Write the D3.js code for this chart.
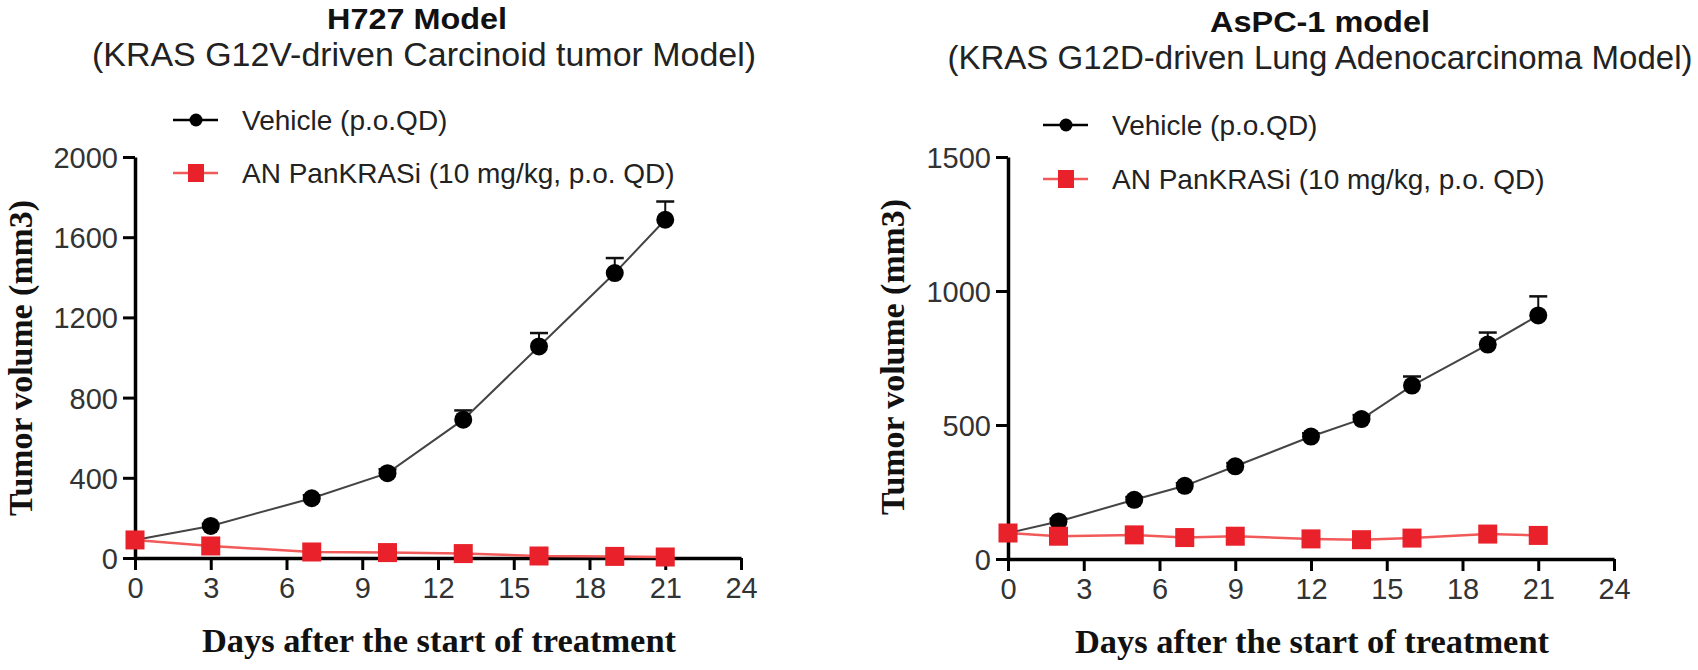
<!DOCTYPE html>
<html>
<head>
<meta charset="utf-8">
<script src="https://cdn.jsdelivr.net/npm/d3@7"></script>
<style>
  html, body { margin: 0; padding: 0; background: #fff; }
  svg { display: block; }
</style>
</head>
<body>
<svg id="chart" width="1698" height="670"></svg>
<script>
// ---------------- DATA ----------------
const seriesNames = ["Vehicle (p.o.QD)", "AN PanKRASi (10 mg/kg, p.o. QD)"];
const xTicks = [0, 3, 6, 9, 12, 15, 18, 21, 24];

// Panel 1: H727
const h727Titles = ["H727 Model", "(KRAS G12V-driven Carcinoid tumor Model)"];
const h727Days = [0, 3, 7, 10, 13, 16, 19, 21];
const h727Vehicle = [90, 160, 298, 423, 690, 1055, 1421, 1687];
const h727VehicleErr = [5, 10, 15, 20, 46, 67, 75, 91];
const h727Drug = [90, 60, 30, 27, 22, 10, 8, 5];
const h727YTicks = [0, 400, 800, 1200, 1600, 2000];

// Panel 2: AsPC-1
const aspcTitles = ["AsPC-1 model", "(KRAS G12D-driven Lung Adenocarcinoma Model)"];
const aspcDays = [0, 2, 5, 7, 9, 12, 14, 16, 19, 21];
const aspcVehicle = [97, 140, 221, 273, 346, 457, 522, 647, 800, 909];
const aspcVehicleErr = [5, 10, 10, 10, 12, 12, 15, 34, 45, 71];
const aspcDrug = [97, 85, 90, 80, 85, 75, 72, 78, 93, 88];
const aspcYTicks = [0, 500, 1000, 1500];

const xLabel = "Days after the start of treatment";
const yLabel = "Tumor volume (mm3)";

// ---------------- DRAW ----------------
const svg = d3.select("#chart");
svg.append("rect").attr("width", 1698).attr("height", 670).attr("fill", "#fff");

const RED = "#e8212a";
const RED_LINE = "#f25a5a";

function panel(cfg) {
  const g = svg.append("g");
  const x = d3.scaleLinear().domain([0, 24]).range([cfg.x0, cfg.x1]);
  const y = d3.scaleLinear().domain([0, cfg.yMax]).range([cfg.y0, cfg.y1]);

  // titles
  g.append("text").attr("x", cfg.titleX).attr("y", cfg.titleY)
    .attr("text-anchor", "middle")
    .style("font-family", "Liberation Sans, Arial, sans-serif")
    .style("font-weight", "bold").style("font-size", "30px").attr("fill", "#111")
    .attr("textLength", cfg.titleW).attr("lengthAdjust", "spacingAndGlyphs")
    .text(cfg.titles[0]);
  g.append("text").attr("x", cfg.subX).attr("y", cfg.subY)
    .attr("text-anchor", "middle")
    .style("font-family", "Liberation Sans, Arial, sans-serif")
    .style("font-size", cfg.subSize + "px").attr("fill", "#222")
    .attr("textLength", cfg.subW).attr("lengthAdjust", "spacingAndGlyphs")
    .text(cfg.titles[1]);

  // axes
  const xAxis = d3.axisBottom(x).tickValues(xTicks).tickSize(12).tickSizeOuter(0).tickPadding(6)
    .tickFormat(d3.format("d"));
  const yAxis = d3.axisLeft(y).tickValues(cfg.yTicks).tickSize(12).tickSizeOuter(0).tickPadding(5)
    .tickFormat(d3.format("d"));

  const gx = g.append("g").attr("transform", `translate(0,${cfg.y0})`).call(xAxis);
  const gy = g.append("g").attr("transform", `translate(${cfg.x0},0)`).call(yAxis);
  [gx, gy].forEach(a => {
    a.select(".domain").attr("stroke", "#000").attr("stroke-width", 3.5);
    a.selectAll(".tick line").attr("stroke", "#000").attr("stroke-width", 3);
    a.selectAll(".tick text")
      .style("font-family", "Liberation Sans, Arial, sans-serif")
      .style("font-size", "29px").attr("fill", "#333");
  });
  gx.selectAll(".tick text").attr("dy", "0.75em");
  gy.selectAll(".tick text").attr("dy", "0.36em");

  // axis labels
  g.append("text").attr("x", cfg.xLabX).attr("y", cfg.xLabY)
    .attr("text-anchor", "middle")
    .style("font-family", "Liberation Serif, Times New Roman, serif")
    .style("font-weight", "bold").style("font-size", "33px").attr("fill", "#111")
    .attr("textLength", 474).attr("lengthAdjust", "spacingAndGlyphs")
    .text(xLabel);
  g.append("text")
    .attr("transform", `translate(${cfg.yLabX},${cfg.yLabY}) rotate(-90)`)
    .attr("text-anchor", "middle")
    .style("font-family", "Liberation Serif, Times New Roman, serif")
    .style("font-weight", "bold").style("font-size", "34px").attr("fill", "#111")
    .attr("textLength", 316).attr("lengthAdjust", "spacingAndGlyphs")
    .text(yLabel);

  const veh = cfg.days.map((d, i) => ({ d, v: cfg.veh[i], e: cfg.err[i] }));
  const drug = cfg.days.map((d, i) => ({ d, v: cfg.drug[i] }));
  const line = d3.line().x(p => x(p.d)).y(p => y(p.v));

  // vehicle error bars (upper only)
  g.append("g").selectAll("g").data(veh).join("g").each(function (p) {
    const s = d3.select(this);
    s.append("line").attr("x1", x(p.d)).attr("x2", x(p.d))
      .attr("y1", y(p.v)).attr("y2", y(p.v + p.e)).attr("stroke", "#111").attr("stroke-width", 2);
    s.append("line").attr("x1", x(p.d) - 9).attr("x2", x(p.d) + 9)
      .attr("y1", y(p.v + p.e)).attr("y2", y(p.v + p.e)).attr("stroke", "#111").attr("stroke-width", 2.5);
  });

  // lines
  g.append("path").datum(veh).attr("d", line).attr("fill", "none")
    .attr("stroke", "#444").attr("stroke-width", 2);
  g.append("path").datum(drug).attr("d", line).attr("fill", "none")
    .attr("stroke", RED_LINE).attr("stroke-width", 2.5);

  // markers: vehicle circles then drug squares
  g.append("g").selectAll("circle").data(veh).join("circle")
    .attr("cx", p => x(p.d)).attr("cy", p => y(p.v)).attr("r", 9).attr("fill", "#000");
  g.append("g").selectAll("rect").data(drug).join("rect")
    .attr("x", p => x(p.d) - 9.5).attr("y", p => y(p.v) - 9.5)
    .attr("width", 19).attr("height", 19).attr("fill", RED);

  // legend
  const lg = g.append("g");
  seriesNames.forEach((name, i) => {
    const ly = cfg.legY[i];
    const col = i === 0 ? "#000" : RED_LINE;
    lg.append("line").attr("x1", cfg.legX).attr("x2", cfg.legX + 45)
      .attr("y1", ly).attr("y2", ly).attr("stroke", col).attr("stroke-width", 2.5);
    if (i === 0) {
      lg.append("circle").attr("cx", cfg.legX + 23).attr("cy", ly).attr("r", 6.5).attr("fill", "#000");
    } else {
      lg.append("rect").attr("x", cfg.legX + 23 - 8).attr("y", ly - 9)
        .attr("width", 16).attr("height", 18).attr("fill", RED);
    }
    lg.append("text").attr("x", cfg.legX + 69).attr("y", ly + 10)
      .style("font-family", "Liberation Sans, Arial, sans-serif")
      .style("font-size", "28px").attr("fill", "#222")
      .text(name);
  });
}

panel({
  titles: h727Titles, days: h727Days, veh: h727Vehicle, err: h727VehicleErr, drug: h727Drug,
  yTicks: h727YTicks, yMax: 2000,
  x0: 135, x1: 741, y0: 558, y1: 157,
  titleX: 417, titleY: 29, titleW: 180, subX: 424, subY: 66, subSize: 33, subW: 664,
  xLabX: 439, xLabY: 652, yLabX: 32, yLabY: 358,
  legX: 173, legY: [120, 173]
});

panel({
  titles: aspcTitles, days: aspcDays, veh: aspcVehicle, err: aspcVehicleErr, drug: aspcDrug,
  yTicks: aspcYTicks, yMax: 1500,
  x0: 1008, x1: 1614, y0: 559, y1: 157,
  titleX: 1320, titleY: 32, titleW: 220, subX: 1320, subY: 69, subSize: 33, subW: 745,
  xLabX: 1312, xLabY: 653, yLabX: 904, yLabY: 357,
  legX: 1043, legY: [125, 179]
});
</script>
</body>
</html>
